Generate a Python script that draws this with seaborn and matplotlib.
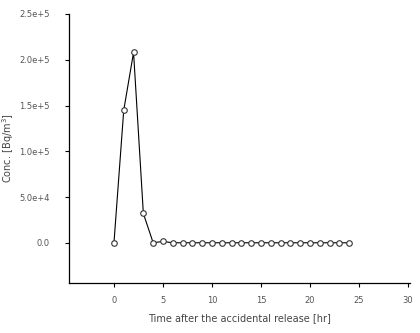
import matplotlib

matplotlib.use("Agg")
import matplotlib.pyplot as plt
import numpy as np
import pandas as pd
import seaborn as sns

# zaman [hr] ve konsantrasyon [Bq/m3]
saat = list(range(0, 25))
konsantrasyon = [0, 1.45e5, 2.08e5, 3.2e4, 0, 1.5e3] + [0] * 19
x_ticks = [0, 5, 10, 15, 20, 25, 30]
x_tick_labels = ["0", "5", "10", "15", "20", "25", "30"]
y_ticks = [0, 5e4, 1e5, 1.5e5, 2e5, 2.5e5]
y_tick_labels = ["0.0", "5.0e+4", "1.0e+5", "1.5e+5", "2.0e+5", "2.5e+5"]

df = pd.DataFrame({"saat": saat, "conc": konsantrasyon})

sns.set_style("ticks")
plt.rcParams["font.family"] = ["DejaVu Sans"]

fig = plt.figure(figsize=(4.2, 3.33), dpi=100)
ax = fig.add_axes([0.164, 0.150, 0.812, 0.808])
sns.lineplot(
    data=df, x="saat", y="conc", ax=ax, color="black", linewidth=0.8,
    marker="o", markersize=4, markerfacecolor="white",
    markeredgecolor="#333333", markeredgewidth=0.8,
)

ax.set_xlim(-4.6, 30.2)
ax.set_ylim(-4.4e4, 2.5e5)
ax.set_xticks(x_ticks)
ax.set_xticklabels(x_tick_labels)
ax.set_yticks(y_ticks)
ax.set_yticklabels(y_tick_labels)
ax.tick_params(labelsize=6, length=3, width=0.8, colors="black", labelcolor="#555555")
ax.tick_params(axis="y", pad=11)
ax.tick_params(axis="x", pad=6)
for s in ("left", "bottom"):
    ax.spines[s].set_color("black")
    ax.spines[s].set_linewidth(0.9)
sns.despine(ax=ax)

ax.set_xlabel("Time after the accidental release [hr]", fontsize=7, color="#444444", labelpad=6)
ax.set_ylabel("Conc. [Bq/m$^3$]", fontsize=7, color="#444444", labelpad=2)

fig.savefig("out.png", dpi=100)
